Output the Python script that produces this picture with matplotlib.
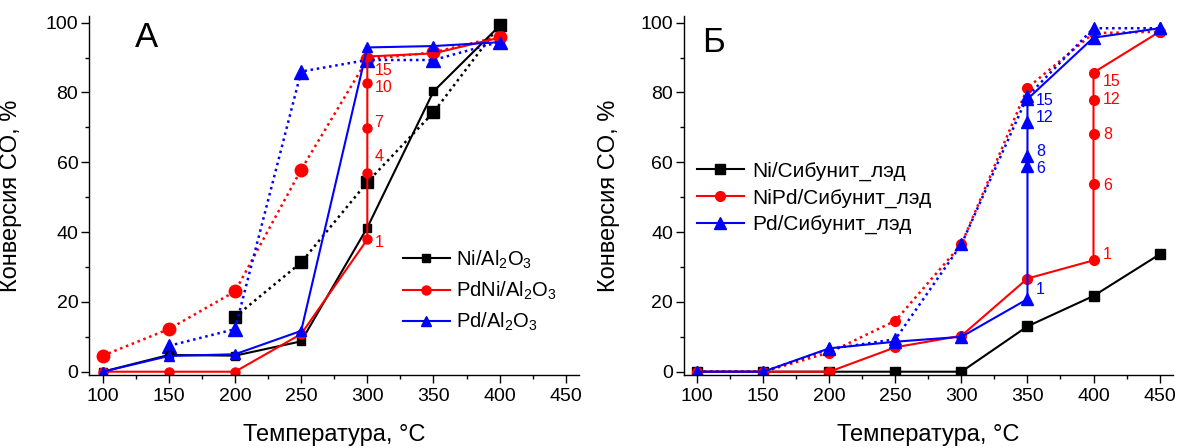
import matplotlib
matplotlib.use('Agg')
import matplotlib.pyplot as plt
from matplotlib.ticker import MultipleLocator

plt.rcParams['font.family'] = ['Liberation Sans', 'DejaVu Sans']
plt.rcParams['mathtext.fontset'] = 'custom'
plt.rcParams['mathtext.rm'] = 'Liberation Sans'
plt.rcParams['mathtext.it'] = 'Liberation Sans:italic'

# ---- Panel A data (Al2O3 catalysts) ----
a_ni_t = [100, 150, 200, 250, 300, 350, 400]
a_ni_solid = [0, 4.8, 4.6, 8.7, 41.3, 80.3, 99.1]
a_ni_dot_t = [200, 250, 300, 350, 400]
a_ni_dot = [15.7, 31.3, 54.3, 74.3, 99.3]

a_pdni_t = [100, 150, 200, 250, 300, 300, 300, 300, 300, 350, 400]
a_pdni_solid = [0, 0, 0, 10.8, 37.9, 56.8, 69.7, 82.7, 90.3, 91.2, 95.7]
a_pdni_dot_t = [100, 150, 200, 250, 300, 350, 400]
a_pdni_dot = [4.6, 12.2, 23.0, 57.9, 89.5, 91.5, 96.0]

a_pd_t = [100, 150, 200, 250, 300, 350, 400]
a_pd_solid = [0, 4.5, 5.0, 11.7, 92.9, 93.3, 94.4]
a_pd_dot_t = [150, 200, 250, 300, 350, 400]
a_pd_dot = [7.4, 12.2, 86.0, 89.3, 89.3, 94.5]

# time labels along the vertical step at 300 C
a_step_labels = ['1', '4', '7', '10', '15']
a_step_label_y = [37.1, 61.7, 71.4, 81.4, 86.2]

# ---- Panel B data (Sibunit catalysts) ----
b_ni_t = [100, 150, 200, 250, 300, 350, 400, 450]
b_ni = [0, 0, 0, 0, 0, 13.0, 21.7, 33.6]

b_nipd_t = [100, 150, 200, 250, 300, 350, 400, 400, 400, 400, 400, 450]
b_nipd_solid = [0, 0, 0, 7.0, 10.3, 26.7, 31.9, 53.8, 68.1, 77.7, 85.7, 97.4]
b_nipd_dot_t = [100, 150, 200, 250, 300, 350, 400, 450]
b_nipd_dot = [0, 0, 5.5, 14.6, 36.5, 81.3, 97.0, 97.4]

b_pd_t = [100, 150, 200, 250, 300, 350, 350, 350, 350, 350, 400, 450]
b_pd_solid = [0, 0, 6.7, 8.6, 10.0, 20.8, 58.9, 61.9, 71.4, 78.1, 95.7, 98.4]
b_pd_dot_t = [100, 150, 200, 250, 300, 350, 400, 450]
b_pd_dot = [0, 0, 6.5, 9.3, 36.5, 78.9, 98.4, 98.4]

b_step_labels = ['1', '6', '8', '12', '15']
b_pd_label_y = [23.6, 58.1, 63.0, 72.9, 77.6]
b_nipd_label_y = [33.6, 53.3, 68.1, 77.9, 83.1]

RED = '#ff0000'
BLUE = '#0000ff'
DOTS = (0, (1, 1.5))

fig = plt.figure(figsize=(11.79, 4.48), dpi=100)
axA = fig.add_axes([0.0759, 0.1625, 0.4152, 0.8025])
axB = fig.add_axes([0.5802, 0.1625, 0.4145, 0.8025])


def style_axes(ax):
    ax.set_xlim(90, 460)
    ax.set_ylim(-1, 102)
    ax.spines['top'].set_visible(False)
    ax.spines['right'].set_visible(False)
    for s in ['left', 'bottom']:
        ax.spines[s].set_linewidth(1.0)
    ax.xaxis.set_major_locator(MultipleLocator(50))
    ax.xaxis.set_minor_locator(MultipleLocator(25))
    ax.yaxis.set_major_locator(MultipleLocator(20))
    ax.yaxis.set_minor_locator(MultipleLocator(10))
    ax.tick_params(which='major', direction='out', length=5.5, width=1.0, labelsize=14)
    ax.tick_params(which='minor', direction='out', length=3, width=1.0)
    ax.tick_params(axis='x', pad=4)
    ax.tick_params(axis='y', pad=2.5)
    ax.set_xlabel('Температура, °C', fontsize=17)
    ax.set_ylabel('Конверсия CO, %', fontsize=17)


# ---- Panel A ----
axA.plot(a_ni_dot_t, a_ni_dot, color='k', ls=DOTS, lw=1.8, marker='s', ms=8.5)
axA.plot(a_pdni_dot_t, a_pdni_dot, color=RED, ls=DOTS, lw=1.8, marker='o', ms=9)
axA.plot(a_pd_dot_t, a_pd_dot, color=BLUE, ls=DOTS, lw=1.8, marker='^', ms=9.5)
axA.plot(a_ni_t, a_ni_solid, color='k', lw=1.5, marker='s', ms=6, label=r'Ni/Al$_2$O$_3$')
axA.plot(a_pdni_t, a_pdni_solid, color=RED, lw=1.5, marker='o', ms=6.5, label=r'PdNi/Al$_2$O$_3$')
axA.plot(a_pd_t, a_pd_solid, color=BLUE, lw=1.5, marker='^', ms=7, label=r'Pd/Al$_2$O$_3$')

for lab, y in zip(a_step_labels, a_step_label_y):
    axA.annotate(lab, (300, y), xytext=(5, 0), textcoords='offset points',
                 color=RED, fontsize=11.5, ha='left', va='center')

style_axes(axA)
axA.text(0.093, 0.985, 'A', transform=axA.transAxes, fontsize=25, ha='left', va='top')
axA.legend(loc='center left', bbox_to_anchor=(0.64, 0.235), frameon=False, fontsize=14.5,
           handlelength=2.35, handletextpad=0.3, labelspacing=0.45, borderpad=0,
           borderaxespad=0)

# ---- Panel B ----
axB.plot(b_nipd_dot_t, b_nipd_dot, color=RED, ls=DOTS, lw=1.8, marker='o', ms=7)
axB.plot(b_pd_dot_t, b_pd_dot, color=BLUE, ls=DOTS, lw=1.8, marker='^', ms=8)
axB.plot(b_ni_t, b_ni, color='k', lw=1.5, marker='s', ms=7, label='Ni/Сибунит_лэд')
axB.plot(b_nipd_t, b_nipd_solid, color=RED, lw=1.5, marker='o', ms=7, label='NiPd/Сибунит_лэд')
axB.plot(b_pd_t, b_pd_solid, color=BLUE, lw=1.5, marker='^', ms=8, label='Pd/Сибунит_лэд')

for lab, y in zip(b_step_labels, b_pd_label_y):
    axB.annotate(lab, (350, y), xytext=(6, 0), textcoords='offset points',
                 color=BLUE, fontsize=11.5, ha='left', va='center')
for lab, y in zip(b_step_labels, b_nipd_label_y):
    axB.annotate(lab, (400, y), xytext=(7, 0), textcoords='offset points',
                 color=RED, fontsize=11.5, ha='left', va='center')

style_axes(axB)
axB.text(0.036, 0.97, 'Б', transform=axB.transAxes, fontsize=25, ha='left', va='top')
axB.legend(loc='center left', bbox_to_anchor=(0.026, 0.493), frameon=False, fontsize=15,
           handlelength=2.25, handletextpad=0.4, labelspacing=0.35, borderpad=0,
           borderaxespad=0)

axA.yaxis.set_label_coords(-0.138, 0.5)
axB.yaxis.set_label_coords(-0.131, 0.5)
axA.xaxis.set_label_coords(0.5, -0.135)
axB.xaxis.set_label_coords(0.5, -0.135)

fig.savefig('out.png', dpi=100)
